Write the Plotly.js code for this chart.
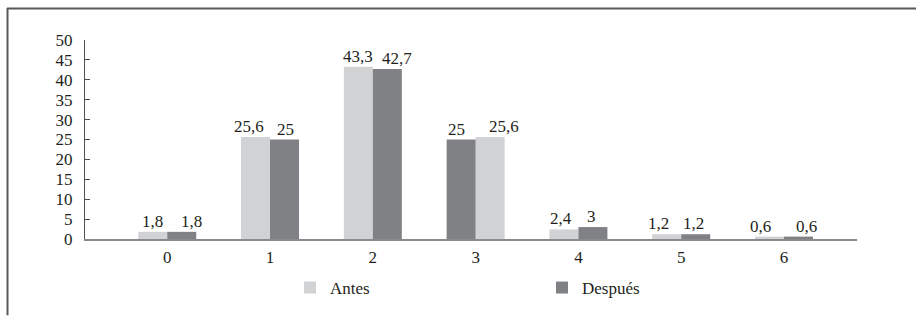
<!DOCTYPE html>
<html>
<head>
<meta charset="utf-8">
<script src="https://cdn.plot.ly/plotly-3.0.1.min.js"></script>
<style>html,body{margin:0;padding:0;background:#fff;}#chart{width:916px;height:316px;}</style>
</head>
<body>
<div id="chart"></div>
<script>
// Data
const categories = ['0', '1', '2', '3', '4', '5', '6'];
const antes = [1.8, 25.6, 43.3, 25.6, 2.4, 1.2, 0.6];
const despues = [1.8, 25, 42.7, 25, 3, 1.2, 0.6];
// In the reference, category 3 draws "Después" on the left and "Antes" on the right
const swapped = [false, false, false, true, false, false, false];
const seriesNames = ['Antes', 'Después'];

// Small horizontal nudges (px) of the value labels, as placed in the reference
const antesLabelNudge = [0, -7, 0, 14, -3, -8, -9];
const despuesLabelNudge = [10, 1, 10, -5, -1, -2, 8];

const fmt = v => String(v).replace('.', ',');
const W = 0.282;
const FAMILY = 'Liberation Serif';
const mkFont = () => ({family: FAMILY, size: 17, color: '#231f20'});

const antesOffset = swapped.map(s => s ? 0 : -W);
const despuesOffset = swapped.map(s => s ? -W : 0);

const traces = [
  {
    type: 'bar', name: seriesNames[0], x: categories, y: antes,
    width: W, offset: antesOffset,
    marker: {color: '#d1d2d4'}
  },
  {
    type: 'bar', name: seriesNames[1], x: categories, y: despues,
    width: W, offset: despuesOffset,
    marker: {color: '#808184'}
  }
];

const labelAnns = [];
[[antes, antesOffset, antesLabelNudge], [despues, despuesOffset, despuesLabelNudge]].forEach(([vals, offs, nudge]) => {
  vals.forEach((v, i) => {
    labelAnns.push({
      xref: 'x', yref: 'y', x: i + offs[i] + W / 2, y: v,
      text: fmt(v), showarrow: false, xanchor: 'center', yanchor: 'bottom',
      xshift: nudge[i], yshift: -1, font: mkFont()
    });
  });
});

const L = 85, R = 857, T = 40, B = 239.5;
const pw = R - L, ph = B - T;
const px = p => (p - L) / pw;
const py = p => (B - p) / ph;

const layout = {
  width: 916, height: 316,
  margin: {l: L, r: 916 - R, t: T, b: 316 - B, pad: 0},
  paper_bgcolor: '#fff', plot_bgcolor: '#fff',
  font: mkFont(),
  showlegend: true,
  barmode: 'overlay',
  xaxis: {
    type: 'category', range: [-0.8, 6.71], showgrid: false, zeroline: false,
    showline: true, linecolor: '#8a8a8d', linewidth: 2, ticks: '',
    tickfont: mkFont(), ticklabelstandoff: 2
  },
  yaxis: {
    range: [0, 50], dtick: 5, showgrid: false, zeroline: false,
    showline: true, linecolor: '#4d4d4f', linewidth: 1,
    ticks: 'inside', ticklen: 5, tickcolor: '#4d4d4f', tickwidth: 1,
    tickfont: mkFont(), ticklabelstandoff: 8
  },
  legend: {
    orientation: 'h', xref: 'container', yref: 'container',
    x: 290 / 916, xanchor: 'left', y: 1 - 270 / 316, yanchor: 'top',
    entrywidth: 207, entrywidthmode: 'pixels', font: mkFont(),
    bgcolor: 'rgba(0,0,0,0)', traceorder: 'normal'
  },
  annotations: labelAnns,
  shapes: [
    {type: 'line', xref: 'paper', yref: 'paper', x0: px(7), x1: px(916), y0: py(8.5), y1: py(8.5),
     line: {color: '#58595b', width: 2}},
    {type: 'line', xref: 'paper', yref: 'paper', x0: px(7.5), x1: px(7.5), y0: py(8), y1: py(316),
     line: {color: '#58595b', width: 2}}
  ]
};

Plotly.newPlot('chart', traces, layout, {displayModeBar: false});
</script>
</body>
</html>
